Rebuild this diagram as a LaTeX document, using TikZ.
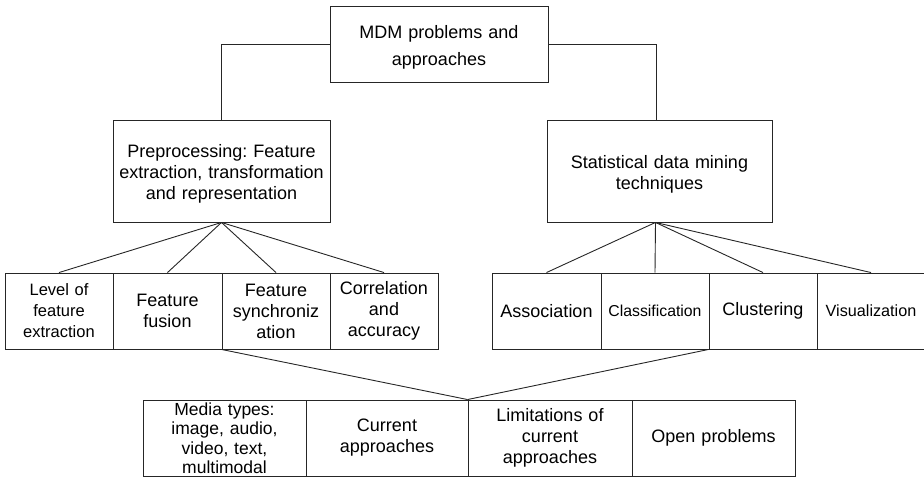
\documentclass[tikz,border=0pt]{standalone}
\usepackage{fontspec}
\setmainfont{Liberation Sans}
\frenchspacing
\newcommand{\lowerit}{\rule{0pt}{19pt}}
\begin{document}
\begin{tikzpicture}[x=1pt,y=-1pt,
  box/.style={draw=black!85, line width=0.9pt, inner sep=0pt, align=center,
    font=\fontsize{18}{21}\selectfont, text=black},
  toprow/.style={box, minimum width=#1, minimum height=76pt},
  midbox/.style={box, minimum width=#1, minimum height=102pt, text width=210pt},
  small/.style={text width=102pt},
  wide/.style={text width=156pt},
  link/.style={draw=black!85, line width=0.9pt}]
\useasboundingbox (0,0) rectangle (924,477);
% top
\node[toprow=218pt, text width=210pt, font=\fontsize{18}{27}\selectfont] (top) at (439,44) {\lowerit MDM problems and\\approaches};
% middle
\node[midbox=217pt] (pre) at (221.5,171) {\lowerit Preprocessing: Feature\\extraction, transformation\\and representation};
\node[midbox=225pt] (stat) at (659.5,171) {\lowerit Statistical data mining\\techniques};
% left row
\node[toprow=108pt, small, font=\fontsize{16.5}{21}\selectfont] (lev) at (59,311) {Level of\\feature\\extraction};
\node[toprow=109pt, small] (fus) at (167.5,311) {Feature\\fusion};
\node[toprow=108pt, small] (syn) at (276,311) {Feature\\synchroniz\\ation};
\node[toprow=108pt, small] (cor) at (384,311) {Correlation\\and\\accuracy};
% right row
\node[toprow=109pt, small] (ass) at (546.5,311) {Association};
\node[toprow=108pt, small, font=\fontsize{15.8}{21}\selectfont] (cla) at (655,311) {Classification};
\node[toprow=108pt, small] (clu) at (763,311) {Clustering};
\node[toprow=108pt, small, font=\fontsize{16.2}{21}\selectfont] (vis) at (871,311) {Visualization};
% bottom row
\node[toprow=163pt, wide, font=\fontsize{17.5}{19.5}\selectfont] (med) at (224.5,438) {Media types:\\image, audio,\\video, text,\\multimodal};
\node[toprow=162pt, wide] (cur) at (387,438) {Current\\approaches};
\node[toprow=164pt, wide] (lim) at (550,438) {Limitations of\\current\\approaches};
\node[toprow=163pt, wide] (opn) at (713.5,438) {Open problems};
% connectors
\draw[link] (top.west) -| (pre.north);
\draw[link] (top.east) -| ([xshift=-3.5pt]stat.north);
\foreach \n in {lev,fus,syn,cor} \draw[link] (pre.south) -- (\n.north);
\foreach \n in {ass,cla,clu,vis} \draw[link] ([xshift=-4pt]stat.south) -- (\n.north);
\draw[link] (syn.south west) -- (lim.north west);
\draw[link] (clu.south west) -- (lim.north west);
\end{tikzpicture}
\end{document}
